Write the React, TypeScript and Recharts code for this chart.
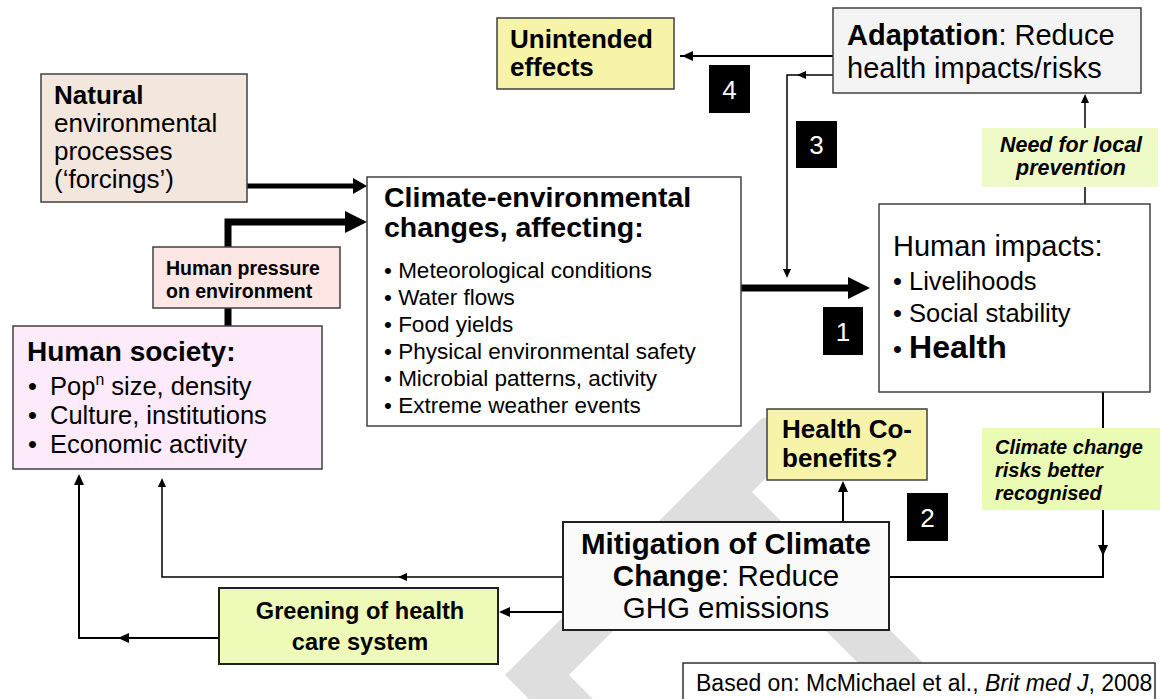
import React from "react";
import { ScatterChart, Scatter, XAxis, YAxis } from "recharts";

const W = 1161;
const H = 699;
const FONT = '"Liberation Sans", Arial, Helvetica, sans-serif';

// diagram units (0..1161 x 0..699)
const watermark = [
  [[762, 418], [505, 675], [529, 699], [593, 699], [569, 675], [826, 418]],
  [[687, 492], [752, 492], [959, 699], [894, 699]],
];

const boxes = [
  { id: "natural", x1: 41, y1: 74, x2: 247, y2: 202 },
  { id: "unintended", x1: 497, y1: 18, x2: 674, y2: 89 },
  { id: "adaptation", x1: 833, y1: 8, x2: 1141, y2: 93 },
  { id: "needLocal", x1: 982, y1: 128, x2: 1158, y2: 187 },
  { id: "climate", x1: 367, y1: 177, x2: 741, y2: 426 },
  { id: "pressure", x1: 153, y1: 247, x2: 340, y2: 308 },
  { id: "society", x1: 13, y1: 326, x2: 322, y2: 469 },
  { id: "impacts", x1: 879, y1: 204, x2: 1150, y2: 392 },
  { id: "cobenefits", x1: 767, y1: 409, x2: 927, y2: 480 },
  { id: "risks", x1: 982, y1: 428, x2: 1160, y2: 510 },
  { id: "mitigation", x1: 563, y1: 522, x2: 889, y2: 630 },
  { id: "greening", x1: 219, y1: 588, x2: 498, y2: 664 },
  { id: "based", x1: 683, y1: 663, x2: 1155, y2: 712 },
  { id: "n4", x1: 709, y1: 65, x2: 750, y2: 113 },
  { id: "n3", x1: 796, y1: 121, x2: 837, y2: 168 },
  { id: "n1", x1: 823, y1: 307, x2: 863, y2: 355 },
  { id: "n2", x1: 907, y1: 493, x2: 948, y2: 541 },
];

const links = [
  { id: "forcing", kind: "natural", pts: [[247, 186], [356, 186]] },
  { id: "pressure", kind: "pressure", pts: [[228, 326], [228, 222], [348, 222]] },
  { id: "impact", kind: "thick", pts: [[741, 288], [850, 288]] },
  { id: "unintended", kind: "thin2", pts: [[833, 56], [680, 56]] },
  { id: "loop", kind: "thin", pts: [[833, 75], [787, 75], [787, 272]] },
  { id: "need", kind: "thin", pts: [[1085, 204], [1085, 100]] },
  { id: "risks", kind: "thin2", pts: [[1103, 392], [1103, 577], [889, 577]] },
  { id: "cobenefit", kind: "thin2", pts: [[843, 522], [843, 486]] },
  { id: "society", kind: "thin", pts: [[563, 577], [162, 577], [162, 484]] },
  { id: "greening", kind: "thin2", pts: [[563, 612], [504, 612]] },
  { id: "care", kind: "thin2", pts: [[219, 638], [79, 638], [79, 480]] },
];

const heads = [
  { x: 367, y: 186, dir: "r", kind: "natural" },
  { x: 367, y: 222, dir: "r", kind: "big" },
  { x: 870, y: 288, dir: "r", kind: "big" },
  { x: 682, y: 56, dir: "l", kind: "thin" },
  { x: 797, y: 75, dir: "l", kind: "small" },
  { x: 787, y: 278, dir: "d", kind: "small" },
  { x: 1085, y: 94, dir: "u", kind: "small" },
  { x: 1103, y: 556, dir: "d", kind: "thin" },
  { x: 843, y: 481, dir: "u", kind: "thin" },
  { x: 398, y: 577, dir: "l", kind: "small" },
  { x: 162, y: 478, dir: "u", kind: "small" },
  { x: 499, y: 612, dir: "l", kind: "thin" },
  { x: 118, y: 638, dir: "l", kind: "thin" },
  { x: 79, y: 474, dir: "u", kind: "thin" },
];

const labels = [
  { x: 54, y: 104, s: "body26", r: [["Natural", "b"]] },
  { x: 54, y: 132, s: "body26", r: [["environmental", ""]] },
  { x: 54, y: 160, s: "body26", r: [["processes", ""]] },
  { x: 54, y: 188, s: "body26", r: [["(\u2018forcings\u2019)", ""]] },
  { x: 510, y: 48, s: "body26", r: [["Unintended", "b"]] },
  { x: 510, y: 76, s: "body26", r: [["effects", "b"]] },
  { x: 847, y: 45, s: "head29", r: [["Adaptation", "b"], [": Reduce", ""]] },
  { x: 847, y: 78, s: "head29", r: [["health impacts/risks", ""]] },
  { x: 1071, y: 152, s: "note21", r: [["Need for local", "bi"]] },
  { x: 1071, y: 175, s: "note21", r: [["prevention", "bi"]] },
  { x: 384, y: 207, s: "title28", r: [["Climate-environmental", "b"]] },
  { x: 384, y: 237, s: "title28", r: [["changes, affecting:", "b"]] },
  { x: 384, y: 278, s: "bullet22", r: [["\u2022 Meteorological conditions", ""]] },
  { x: 384, y: 305, s: "bullet22", r: [["\u2022 Water flows", ""]] },
  { x: 384, y: 332, s: "bullet22", r: [["\u2022 Food yields", ""]] },
  { x: 384, y: 359, s: "bullet22", r: [["\u2022 Physical environmental safety", ""]] },
  { x: 384, y: 386, s: "bullet22", r: [["\u2022 Microbial patterns, activity", ""]] },
  { x: 384, y: 413, s: "bullet22", r: [["\u2022 Extreme weather events", ""]] },
  { x: 166, y: 275, s: "tag19", r: [["Human pressure", "b"]] },
  { x: 166, y: 298, s: "tag19", r: [["on environment", "b"]] },
  { x: 27, y: 361, s: "soc28", r: [["Human society:", "b"]] },
  { x: 28, y: 395, s: "list26", r: [["\u2022", ""]] },
  { x: 50, y: 395, s: "list26", r: [["Pop", ""], ["n", "sup"], [" size, density", ""]] },
  { x: 28, y: 424, s: "list26", r: [["\u2022", ""]] },
  { x: 50, y: 424, s: "list26", r: [["Culture, institutions", ""]] },
  { x: 28, y: 453, s: "list26", r: [["\u2022", ""]] },
  { x: 50, y: 453, s: "list26", r: [["Economic activity", ""]] },
  { x: 893, y: 256, s: "head29", r: [["Human impacts:", ""]] },
  { x: 893, y: 290, s: "list26", r: [["\u2022 Livelihoods", ""]] },
  { x: 893, y: 322, s: "list26", r: [["\u2022 Social stability", ""]] },
  { x: 893, y: 358, s: "list26", r: [["\u2022 ", ""], ["Health", "big"]] },
  { x: 995, y: 454, s: "note20", r: [["Climate change", "bi"]] },
  { x: 995, y: 477, s: "note20", r: [["risks better", "bi"]] },
  { x: 995, y: 500, s: "note20", r: [["recognised", "bi"]] },
  { x: 782, y: 438, s: "body26", r: [["Health Co-", "b"]] },
  { x: 782, y: 467, s: "body26", r: [["benefits?", "b"]] },
  { x: 726, y: 554, s: "mit", r: [["Mitigation of Climate", "b"]] },
  { x: 726, y: 586, s: "mit", r: [["Change", "b"], [": Reduce", ""]] },
  { x: 726, y: 618, s: "mit", r: [["GHG emissions", ""]] },
  { x: 360, y: 619, s: "green", r: [["Greening of health", "b"]] },
  { x: 360, y: 650, s: "green", r: [["care system", "b"]] },
  { x: 696, y: 691, s: "cite", r: [["Based on: McMichael et al., ", ""], ["Brit med J", "i"], [", 2008", ""]] },
  { x: 729.5, y: 98.5, s: "num", r: [["4", ""]] },
  { x: 816.5, y: 154, s: "num", r: [["3", ""]] },
  { x: 843, y: 340.5, s: "num", r: [["1", ""]] },
  { x: 927.5, y: 526.5, s: "num", r: [["2", ""]] },
];

// ---- looks ----
const boxLook: Record<string, { fill: string; stroke: string; sw: number }> = {
  natural: { fill: "#f3e6dd", stroke: "#404040", sw: 1.5 },
  unintended: { fill: "#f7f3a9", stroke: "#404040", sw: 1.5 },
  adaptation: { fill: "#f4f4f4", stroke: "#404040", sw: 1.5 },
  needLocal: { fill: "#eefbc9", stroke: "none", sw: 0 },
  climate: { fill: "#ffffff", stroke: "#404040", sw: 1.5 },
  pressure: { fill: "#fde6e4", stroke: "#404040", sw: 1.5 },
  society: { fill: "#fdeafa", stroke: "#404040", sw: 1.5 },
  impacts: { fill: "#ffffff", stroke: "#404040", sw: 1.5 },
  cobenefits: { fill: "#f7f3a9", stroke: "#404040", sw: 1.5 },
  risks: { fill: "#eafcb3", stroke: "none", sw: 0 },
  mitigation: { fill: "#fafafa", stroke: "#202020", sw: 2 },
  greening: { fill: "#eefbb8", stroke: "#202020", sw: 2 },
  based: { fill: "#ffffff", stroke: "#303030", sw: 1.5 },
  n4: { fill: "#000", stroke: "none", sw: 0 },
  n3: { fill: "#000", stroke: "none", sw: 0 },
  n1: { fill: "#000", stroke: "none", sw: 0 },
  n2: { fill: "#000", stroke: "none", sw: 0 },
};

const lineLook: Record<string, number> = { natural: 5, pressure: 7, thick: 7, thin: 1.5, thin2: 2 };
const headLook: Record<string, [number, number]> = { natural: [14, 8], big: [22, 11], thin: [11, 5], small: [9, 4] };
const textLook: Record<string, { size: number; anchor?: string; fill?: string }> = {
  body26: { size: 26 },
  head29: { size: 29 },
  note21: { size: 21.5, anchor: "middle" },
  note20: { size: 20 },
  title28: { size: 28.5 },
  soc28: { size: 28 },
  bullet22: { size: 22.5 },
  tag19: { size: 19.5 },
  list26: { size: 25.5 },
  mit: { size: 29.5, anchor: "middle" },
  green: { size: 23.6, anchor: "middle" },
  cite: { size: 23 },
  num: { size: 26, anchor: "middle", fill: "#ffffff" },
};

const toPts = (arr: number[][]) => arr.map(([x, y]) => ({ x, y }));
const Blank = () => <g />;
const joinPts = (pts: { x: number; y: number }[]) => pts.map((p) => `${p.x},${p.y}`).join(" ");

function Head(props: any) {
  const { cx, cy, payload } = props;
  const [L, h] = headLook[payload.kind];
  let p: number[][] = [];
  if (payload.dir === "r") p = [[cx, cy], [cx - L, cy - h], [cx - L, cy + h]];
  if (payload.dir === "l") p = [[cx, cy], [cx + L, cy - h], [cx + L, cy + h]];
  if (payload.dir === "u") p = [[cx, cy], [cx - h, cy + L], [cx + h, cy + L]];
  if (payload.dir === "d") p = [[cx, cy], [cx - h, cy - L], [cx + h, cy - L]];
  return <polygon points={p.map((q) => q.join(",")).join(" ")} fill="#000" />;
}

function Words(props: any) {
  const { cx, cy, payload } = props;
  const st = textLook[payload.s];
  const lift = st.size * 0.38;
  let back = 0;
  return (
    <text
      x={cx}
      y={cy}
      fontFamily={FONT}
      fontSize={st.size}
      textAnchor={st.anchor || "start"}
      fill={st.fill || "#000"}
      style={{ whiteSpace: "pre" }}
    >
      {payload.r.map(([t, f]: [string, string], i: number) => {
        if (f === "sup") {
          back = lift;
          return (
            <tspan key={i} dy={-lift} fontSize={st.size * 0.62}>
              {t}
            </tspan>
          );
        }
        const dy = back;
        back = 0;
        return (
          <tspan
            key={i}
            dy={dy || undefined}
            fontWeight={f === "b" || f === "bi" || f === "big" ? "bold" : "normal"}
            fontStyle={f === "i" || f === "bi" ? "italic" : "normal"}
            fontSize={f === "big" ? 32 : undefined}
          >
            {t}
          </tspan>
        );
      })}
    </text>
  );
}

export default function App() {
  return (
    <div style={{ position: "absolute", left: 0, top: 0, background: "#fff" }}>
      <ScatterChart width={W} height={H} margin={{ top: 0, right: 0, bottom: 0, left: 0 }}>
        <XAxis type="number" dataKey="x" domain={[0, W]} hide allowDataOverflow />
        <YAxis type="number" dataKey="y" domain={[0, H]} reversed hide allowDataOverflow />

        {watermark.map((poly, i) => (
          <Scatter
            key={`wm${i}`}
            data={toPts(poly)}
            isAnimationActive={false}
            shape={Blank}
            line={(lp: any) => <polygon points={joinPts(lp.points)} fill="#dedede" />}
          />
        ))}

        {links.map((l) => (
          <Scatter
            key={l.id}
            data={toPts(l.pts)}
            isAnimationActive={false}
            shape={Blank}
            line={(lp: any) => (
              <polyline
                points={joinPts(lp.points)}
                fill="none"
                stroke="#000"
                strokeWidth={lineLook[l.kind]}
                strokeLinejoin="miter"
              />
            )}
          />
        ))}

        {boxes.map((b) => {
          const look = boxLook[b.id];
          return (
            <Scatter
              key={b.id}
              data={[{ x: b.x1, y: b.y1 }, { x: b.x2, y: b.y2 }]}
              isAnimationActive={false}
              shape={Blank}
              line={(lp: any) => {
                const [a, c] = lp.points;
                return (
                  <rect
                    x={Math.min(a.x, c.x)}
                    y={Math.min(a.y, c.y)}
                    width={Math.abs(c.x - a.x)}
                    height={Math.abs(c.y - a.y)}
                    fill={look.fill}
                    stroke={look.stroke}
                    strokeWidth={look.sw}
                  />
                );
              }}
            />
          );
        })}

        <Scatter data={heads} isAnimationActive={false} shape={(p: any) => <Head {...p} />} />
        <Scatter data={labels} isAnimationActive={false} shape={(p: any) => <Words {...p} />} />
      </ScatterChart>
    </div>
  );
}
